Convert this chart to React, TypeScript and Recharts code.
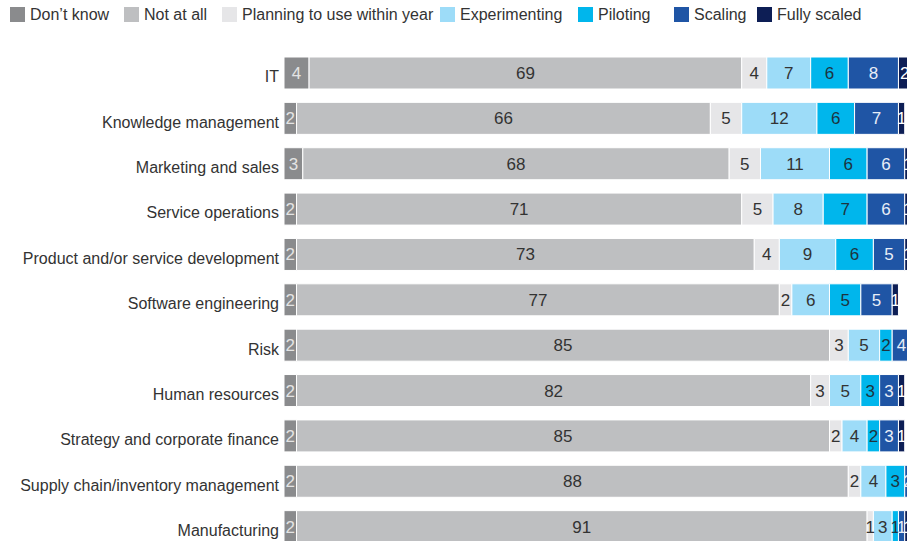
import React from "react";
import { BarChart, Bar, XAxis, YAxis, LabelList } from "recharts";

const categories = [
  "IT",
  "Knowledge management",
  "Marketing and sales",
  "Service operations",
  "Product and/or service development",
  "Software engineering",
  "Risk",
  "Human resources",
  "Strategy and corporate finance",
  "Supply chain/inventory management",
  "Manufacturing",
];

const dontKnow = [4, 2, 3, 2, 2, 2, 2, 2, 2, 2, 2];
const notAtAll = [69, 66, 68, 71, 73, 77, 85, 82, 85, 88, 91];
const planning = [4, 5, 5, 5, 4, 2, 3, 3, 2, 2, 1];
const experimenting = [7, 12, 11, 8, 9, 6, 5, 5, 4, 4, 3];
const piloting = [6, 6, 6, 7, 6, 5, 2, 3, 2, 3, 1];
const scaling = [8, 7, 6, 6, 5, 5, 4, 3, 3, 2, 1];
const fullyScaled = [2, 1, 1, 1, 1, 1, 1, 1, 1, 1, 1];

const seriesNames = [
  "Don\u2019t know",
  "Not at all",
  "Planning to use within year",
  "Experimenting",
  "Piloting",
  "Scaling",
  "Fully scaled",
];
const seriesKeys = ["dk", "na", "pl", "ex", "pi", "sc", "fs"];
const seriesValues = [dontKnow, notAtAll, planning, experimenting, piloting, scaling, fullyScaled];
const seriesColors = ["#8a8b8d", "#bebfc1", "#e6e6e8", "#9ddcf8", "#00b6ec", "#1f55a5", "#0d1e55"];
const labelColors = ["#e4e4e4", "#333333", "#333333", "#333333", "#1d3440", "#e8eef7", "#ffffff"];
const legendLeft = [10, 124, 222, 440, 578, 674, 757];

const data = categories.map((name, i) => {
  const row: Record<string, any> = { name };
  seriesKeys.forEach((k, s) => {
    row[k] = seriesValues[s][i];
  });
  return row;
});

const FONT = '"Liberation Sans", Arial, Helvetica, sans-serif';

const CategoryTick = (props: any) => {
  const { x, y, payload } = props;
  return (
    <text
      x={x}
      y={y + 4}
      dy="0.355em"
      textAnchor="end"
      fill="#333"
      fontSize={16}
      fontFamily={FONT}
    >
      {payload.value}
    </text>
  );
};

export default function App() {
  return (
    <div
      style={{
        position: "absolute",
        left: 0,
        top: 0,
        width: 907,
        height: 541,
        overflow: "hidden",
        background: "#fff",
        fontFamily: FONT,
      }}
    >
      {seriesNames.map((n, i) => (
        <div
          key={n}
          style={{
            position: "absolute",
            left: legendLeft[i],
            top: 5,
            height: 19,
            display: "flex",
            alignItems: "center",
            whiteSpace: "nowrap",
            fontSize: 16,
            color: "#333",
          }}
        >
          <span
            style={{
              display: "inline-block",
              width: 15,
              height: 15,
              background: seriesColors[i],
              marginRight: 5,
            }}
          />
          <span>{n}</span>
        </div>
      ))}
      <div style={{ position: "absolute", left: 0, top: 0 }}>
        <BarChart
          width={920}
          height={560}
          data={data}
          layout="vertical"
          margin={{ top: 50, right: 9, bottom: 11, left: 0 }}
          barCategoryGap={13}
        >
          <XAxis type="number" hide domain={[0, 100]} allowDataOverflow />
          <YAxis
            type="category"
            dataKey="name"
            width={284}
            axisLine={false}
            tickLine={false}
            tickSize={0}
            tickMargin={5}
            interval={0}
            tick={<CategoryTick />}
          />
          {seriesKeys.map((k, i) => (
            <Bar
              key={k}
              dataKey={k}
              name={seriesNames[i]}
              stackId="a"
              fill={seriesColors[i]}
              stroke="#ffffff"
              strokeWidth={1}
              barSize={32}
              isAnimationActive={false}
            >
              <LabelList
                dataKey={k}
                position="center"
                fill={labelColors[i]}
                fontSize={17}
                fontFamily={FONT}
              />
            </Bar>
          ))}
        </BarChart>
      </div>
    </div>
  );
}
